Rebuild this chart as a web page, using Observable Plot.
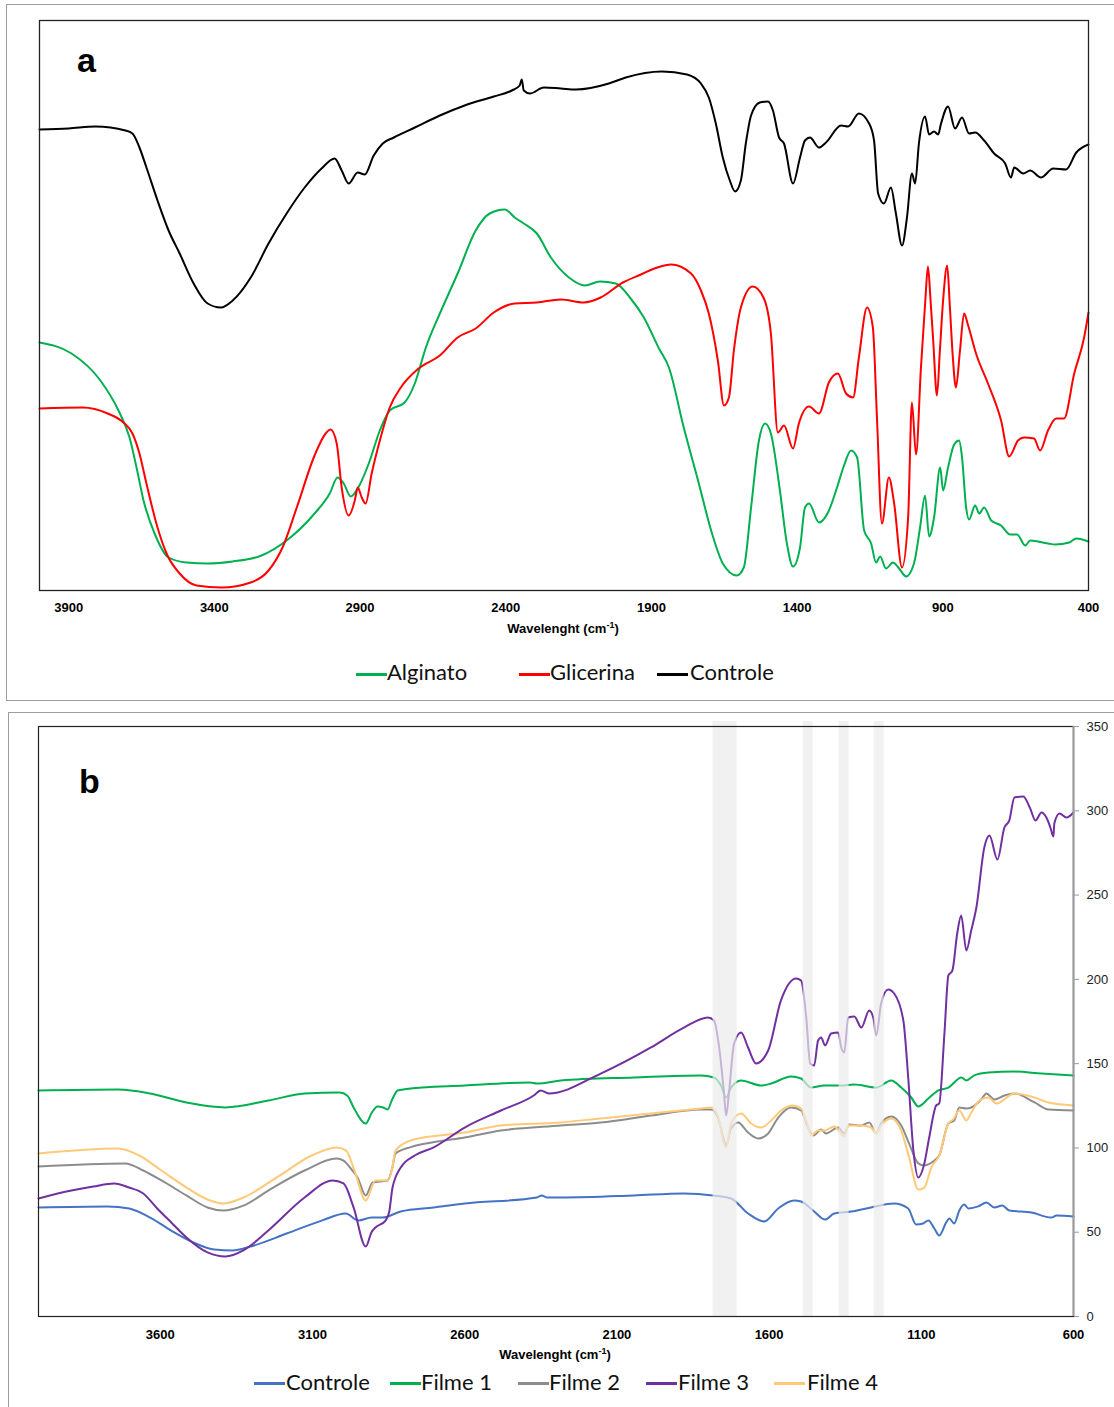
<!DOCTYPE html>
<html><head><meta charset="utf-8">
<script src="https://cdn.jsdelivr.net/npm/d3@7"></script>
<script src="https://cdn.jsdelivr.net/npm/@observablehq/plot@0.6"></script>
<style>
body{margin:0;background:#fff;width:1114px;height:1407px;position:relative;overflow:hidden}
.panel{position:absolute;border:1px solid #9c9c9c;box-sizing:border-box}
.abs{position:absolute;left:0}
.tag{position:absolute;font:bold 34px "Liberation Sans",Arial,sans-serif;line-height:34px;color:#000}
.xlabel{position:absolute;font:bold 13px "Liberation Sans",Arial,sans-serif;line-height:16px;transform:translateX(-50%);white-space:nowrap;color:#000}
.xlabel sup{font-size:9px;line-height:0}
.sw{position:absolute;height:2.5px}
.lt{position:absolute;font:22px Lato,"Noto Sans",sans-serif;line-height:24px;color:#111;white-space:nowrap}
</style></head>
<body>
<div class="panel" style="left:6px;top:4px;width:1120px;height:697px"></div>
<div class="panel" style="left:8px;top:712px;width:1120px;height:720px"></div>
<div id="pa" class="abs" style="top:0"></div>
<div id="pb" class="abs" style="top:700px"></div>
<div class="tag" style="left:77px;top:43px">a</div>
<div class="tag" style="left:79px;top:764px">b</div>
<div class="xlabel" style="left:563px;top:621px">Wavelenght (cm<sup>-1</sup>)</div>
<div class="xlabel" style="left:555px;top:1347px">Wavelenght (cm<sup>-1</sup>)</div>
<div id="legs"></div>
<script>
// ---------- Panel a (arbitrary transmittance units) ----------
const ticksA = [3900, 3400, 2900, 2400, 1900, 1400, 900, 400];
const namesA = ["Alginato", "Glicerina", "Controle"];
const colorsA = ["#00b050", "#ff0000", "#000000"];

const alginatoA = [[4000,49.6],[3890,47.4],[3791,42],[3729,36],[3691,30.6],[3667,24.6],[3643,18],[3605,11.4],[3557,6.6],[3495,5.6],[3423,5.4],[3337,5.8],[3238,7],[3152,10],[3056,15.4],[3004,19.4],[2977,22.6],[2956,21.4],[2932,18.8],[2908,20.4],[2870,25.4],[2832,32],[2798,36],[2747,37.6],[2712,41.4],[2674,48.6],[2626,55.4],[2565,63.4],[2503,72],[2455,75.4],[2403,76.2],[2369,74.6],[2338,73.4],[2293,71.4],[2245,66.6],[2183,62.6],[2128,61],[2077,61.8],[2022,61.4],[1974,58.6],[1926,54.6],[1874,48.4],[1840,44.6],[1789,32.6],[1740,22],[1692,11.4],[1655,5.4],[1607,3],[1583,4.6],[1558,16.6],[1531,30],[1510,33.4],[1490,31.4],[1459,20],[1435,9.4],[1414,4.8],[1390,8.6],[1373,16.6],[1359,17.4],[1325,13.6],[1294,15.6],[1263,20.6],[1239,25],[1215,28],[1194,26.6],[1170,12],[1146,9.4],[1129,5.6],[1115,6.8],[1095,4.4],[1071,5.6],[1050,4.4],[1026,2.8],[999,5.4],[978,12.6],[961,19],[947,10.8],[930,14.6],[909,24.6],[899,20],[882,24.6],[861,29.2],[844,30],[834,26.6],[820,16.6],[810,14.2],[789,17],[775,15.4],[758,16.6],[734,14],[700,13],[669,11.2],[645,11.2],[617,9],[600,10],[539,9.4],[515,9.2],[466,9.6],[442,10.4],[400,9.8]];

const glicerinaA = [[4000,36.4],[3852,36.6],[3766,35.4],[3712,33.6],[3681,31.4],[3657,27.4],[3633,21.4],[3595,12.6],[3564,7.4],[3519,3.4],[3461,1],[3375,0.6],[3275,1.6],[3214,4],[3166,8.6],[3117,16.6],[3056,27],[3018,31.4],[3001,32.2],[2980,29.4],[2963,20.6],[2939,15],[2918,18],[2908,20.6],[2894,18.6],[2881,17.4],[2860,23.4],[2832,30],[2798,36.6],[2760,40.6],[2699,44.4],[2626,47],[2565,50.6],[2503,52.4],[2441,55.6],[2369,57.4],[2293,57.6],[2211,58.2],[2132,57.6],[2074,58.6],[1998,61.6],[1936,63.2],[1880,64.6],[1833,65.2],[1764,63.4],[1730,60],[1703,55.4],[1672,46],[1651,37],[1634,38.6],[1617,48],[1593,56.6],[1552,60.8],[1514,58.4],[1490,51.4],[1466,31.6],[1445,33],[1414,28.4],[1394,33.4],[1359,36.8],[1325,35.4],[1291,41.6],[1260,43.4],[1232,39.4],[1208,38.6],[1188,46.6],[1160,56.6],[1140,52.6],[1126,34.6],[1109,13.4],[1085,22.6],[1067,17.4],[1040,4.6],[1019,14.6],[1006,37.6],[992,27.2],[975,44.6],[960,58],[951,64.8],[942,58],[933,50],[920,39],[910,48],[899,58],[885,65],[876,57],[866,47],[855,40.6],[841,48],[827,55.4],[813,53],[786,47.4],[745,41.4],[700,34],[672,26.8],[642,30],[621,30.6],[587,30.4],[566,28],[539,32],[511,34.4],[484,34.4],[449,43.4],[415,50.6],[400,55.6]];

const controleA = [[4000,92.2],[3900,92.4],[3808,92.8],[3705,92],[3681,91.4],[3657,88.6],[3633,84.6],[3595,78],[3557,72],[3519,67.4],[3471,61.4],[3423,57.4],[3378,56.6],[3337,58],[3275,62.6],[3214,69.4],[3152,75.4],[3090,80.6],[3032,84.4],[2987,86.4],[2963,84],[2939,81.4],[2908,83.6],[2884,83.2],[2853,87],[2822,89.4],[2784,90.6],[2712,92.6],[2626,95],[2541,97],[2441,98.8],[2379,100],[2352,101],[2345,102.2],[2338,100],[2317,99.4],[2269,100.6],[2211,100.4],[2159,100.2],[2046,101.4],[1988,102.6],[1864,103.8],[1778,103.2],[1730,101.4],[1703,98.6],[1679,93.4],[1655,86.6],[1631,82],[1613,79.8],[1593,82],[1576,89.4],[1558,95],[1528,97.6],[1500,97.8],[1483,96],[1462,90.6],[1445,89.4],[1414,81.4],[1390,86.6],[1373,90],[1356,90.6],[1325,88.6],[1301,89.6],[1249,93],[1225,92.8],[1188,95.4],[1153,93.4],[1136,90],[1122,79.4],[1102,77.4],[1078,80.6],[1061,75.4],[1040,69],[1023,74.6],[1006,83.4],[995,81.4],[982,89.4],[961,94.8],[947,91.2],[930,91.8],[916,91.2],[906,93.4],[882,96.8],[858,92.4],[834,94.6],[810,91.4],[789,91.6],[758,90],[724,87.4],[686,85.4],[666,82.6],[655,84.6],[624,83.4],[600,84],[563,82.6],[521,84.4],[477,84.2],[442,87.6],[400,89.2]];

// ---------- Panel b ----------
const ticksBx = [3600, 3100, 2600, 2100, 1600, 1100, 600];
const ticksBy = [0, 50, 100, 150, 200, 250, 300, 350];
const namesB = ["Controle", "Filme 1", "Filme 2", "Filme 3", "Filme 4"];
const colorsB = ["#4472c4", "#00b050", "#8c8c8c", "#7030a0", "#ffc978"];
const bandsB = [[1784,1705],[1488,1455],[1370,1337],[1255,1222]];

const controleB = [[4000,64.7],[3774,65.3],[3702,64.1],[3633,58.7],[3564,51],[3491,43.9],[3422,39.7],[3363,39.2],[3304,41.5],[3185,49.2],[3070,56.9],[2991,61.1],[2949,56.9],[2906,58.7],[2870,58.7],[2810,62.3],[2702,64.7],[2600,67],[2363,70.6],[2347,71.8],[2330,70.6],[2284,70.6],[2044,71.8],[1880,73],[1784,71.8],[1725,70],[1669,61.1],[1616,56.4],[1570,64.1],[1518,68.8],[1495,68.2],[1452,62.3],[1416,57.5],[1386,61.1],[1330,62.3],[1265,64.7],[1189,67],[1143,64.1],[1117,54.6],[1094,55.2],[1077,56.9],[1057,52.2],[1041,48],[1018,55.8],[1008,58.1],[992,55.2],[975,62.9],[959,66.4],[945,64.1],[913,65.3],[886,67.6],[860,64.7],[834,65.8],[811,62.9],[738,61.7],[673,58.7],[656,59.9],[600,59.3]];

const filme1B = [[4000,134.1],[3738,134.7],[3633,132.3],[3514,126.9],[3386,124],[3245,128.1],[3126,132.3],[3011,132.9],[2985,131],[2965,124],[2925,114.5],[2905,121],[2886,124.6],[2868,124],[2853,122.8],[2840,128],[2820,134.1],[2797,134.8],[2600,137],[2386,138.8],[2363,138.2],[2284,140],[2044,141.8],[1824,143],[1781,141.8],[1758,137],[1741,129.9],[1725,135.8],[1692,140],[1626,137],[1593,138.2],[1528,142.4],[1495,141.2],[1462,135.8],[1419,137],[1363,137],[1320,137.6],[1248,135.8],[1199,140],[1166,135.8],[1133,129.9],[1110,124.6],[1077,129.3],[1044,134.1],[1011,135.8],[968,141.8],[952,140],[926,143],[880,144.7],[794,145.3],[705,144.1],[600,143]];

const filme2B = [[4000,89],[3715,90.8],[3656,86.6],[3596,80.7],[3514,71.8],[3445,64.7],[3393,62.9],[3327,65.8],[3235,75.9],[3126,86.6],[3021,93.7],[2998,92.5],[2975,88],[2952,82.5],[2925,71.8],[2902,79.5],[2853,80.7],[2838,88],[2827,96.7],[2777,100.5],[2700,103.5],[2600,106.2],[2481,110.3],[2284,113.3],[2153,115.1],[1988,119.2],[1824,122.8],[1791,122.8],[1768,118],[1751,106.2],[1741,101.4],[1725,111.5],[1702,115.1],[1669,109.1],[1636,105.6],[1603,108.6],[1570,118],[1528,124],[1495,122.2],[1472,112.1],[1455,107.4],[1429,110.9],[1413,108.6],[1373,112.1],[1353,108.6],[1337,113.9],[1297,113.3],[1271,115.1],[1248,108.6],[1232,114.5],[1199,118.6],[1166,113.3],[1140,102.6],[1110,90.8],[1090,89.6],[1057,92.5],[1041,95.5],[1011,114.5],[992,116.3],[975,124],[952,123.4],[936,124],[903,128.7],[886,132.3],[860,128.7],[827,131.1],[794,132.3],[728,127],[682,122.8],[600,122.2]];

const filme3B = [[4000,70],[3892,74.7],[3820,77.1],[3751,78.9],[3702,76.5],[3656,73],[3610,64.1],[3564,55.8],[3514,46.9],[3445,38],[3386,35.6],[3327,39.2],[3245,51],[3126,70.6],[3034,80.7],[2998,78.9],[2965,64.7],[2925,41.5],[2906,50],[2893,52.8],[2860,56.9],[2848,62],[2837,76.5],[2810,88.4],[2764,95.5],[2702,100.3],[2600,112.1],[2481,122.2],[2373,131.1],[2350,134.1],[2324,132.3],[2153,144.1],[1988,159.6],[1880,171.4],[1801,177.4],[1781,175.6],[1764,159.6],[1748,132.3],[1741,119.2],[1732,132.3],[1715,161.9],[1692,168.5],[1669,159.6],[1643,150.1],[1603,157.8],[1561,187.5],[1511,200.5],[1495,199.3],[1478,177.4],[1465,150.1],[1452,148.9],[1439,163.7],[1429,165.5],[1416,160.8],[1396,167.9],[1373,168.5],[1363,159.6],[1353,156.6],[1340,177.4],[1320,178],[1297,171.4],[1271,181.5],[1258,177.4],[1248,166.7],[1232,185.7],[1209,194],[1189,191.6],[1159,175.6],[1143,141.8],[1126,98.5],[1110,82.5],[1090,90.8],[1074,106.2],[1051,125.2],[1041,126.4],[1024,167.9],[1011,202.3],[998,205.2],[982,227.2],[969,237.9],[952,217.1],[936,229],[919,242.6],[893,278.2],[876,285.3],[850,271.1],[827,290.1],[811,294.2],[794,307.9],[765,308.5],[742,301.3],[725,294.2],[705,299],[689,296],[676,290.1],[666,284.7],[663,292.5],[646,298.4],[623,296],[600,299]];

const filme4B = [[4000,96.7],[3738,99.7],[3669,95.5],[3596,86.6],[3514,76.5],[3445,69.4],[3393,67],[3327,70.6],[3208,83.6],[3103,95.5],[3021,100.3],[2990,98.5],[2962,86.6],[2925,68.8],[2893,80.7],[2853,80.7],[2838,88],[2827,98.5],[2768,105],[2600,109.1],[2481,113.3],[2284,115.1],[2153,117.5],[1824,123.4],[1791,124],[1768,119.2],[1751,104.4],[1741,100.3],[1725,114.5],[1692,120.4],[1659,114.5],[1626,112.1],[1593,116.3],[1561,122.2],[1521,125.2],[1495,123.4],[1475,114.5],[1462,107.4],[1439,110.3],[1419,110.3],[1386,112.7],[1353,106.8],[1340,113.3],[1297,113.3],[1265,112.1],[1248,108.6],[1232,113.3],[1199,117.5],[1166,110.3],[1140,94.3],[1110,75.3],[1090,76.5],[1067,88.4],[1041,95.5],[1011,114.5],[995,116.9],[975,122.2],[952,116.3],[936,121],[909,128.1],[880,129.9],[853,126.4],[794,132.3],[728,129.9],[682,126.9],[600,125.2]];

const seriesA = [alginatoA, glicerinaA, controleA];
const seriesB = [controleB, filme1B, filme2B, filme3B, filme4B];
const drawOrderB = [0, 1, 2, 4, 3];

const lineOpts = (c) => ({x: d => d[0], y: d => d[1], stroke: c, strokeWidth: 2, curve: "monotone-x"});

const plotA = Plot.plot({
  width: 1114, height: 625,
  marginLeft: 39, marginRight: 26, marginTop: 20, marginBottom: 35,
  style: {background: "transparent", fontFamily: "'Liberation Sans', Arial, sans-serif", color: "#000"},
  x: {domain: [4000, 400]},
  y: {domain: [0, 114], axis: null},
  marks: [
    ...seriesA.map((s, i) => Plot.line(s, lineOpts(colorsA[i]))),
    Plot.frame({stroke: "#222", strokeWidth: 1.3}),
    Plot.axisX({ticks: ticksA, tickSize: 0, tickPadding: 12, tickFormat: "d", fontWeight: "bold", fontSize: 13, label: null})
  ]
});
document.getElementById("pa").appendChild(plotA);

const plotB = Plot.plot({
  width: 1114, height: 655,
  marginLeft: 38, marginRight: 41, marginTop: 26, marginBottom: 39,
  style: {background: "transparent", fontFamily: "'Liberation Sans', Arial, sans-serif", color: "#000"},
  x: {domain: [4000, 600]},
  y: {domain: [0, 350]},
  marks: [
    ...drawOrderB.map(i => Plot.line(seriesB[i], lineOpts(colorsB[i]))),
    Plot.rect(bandsB, {x1: d => d[0], x2: d => d[1], y1: () => 0, y2: () => 353, fill: "#ebebeb", fillOpacity: 0.7}),
    Plot.frame({stroke: "#222", strokeWidth: 1.2}),
    Plot.ruleX([600], {stroke: "#9a9a9a", strokeWidth: 2}),
    Plot.axisX({ticks: ticksBx, tickSize: 0, tickPadding: 13, tickFormat: "d", fontWeight: "bold", fontSize: 13, label: null}),
    Plot.axisY({anchor: "right", ticks: ticksBy, tickSize: 5, tickPadding: 8, tickFormat: "d", stroke: "#9a9a9a", fill: "#222", fontSize: 13, label: null})
  ]
});
document.getElementById("pb").appendChild(plotB);

// ---------- Legends ----------
const legs = document.getElementById("legs");
function legend(names, colors, lineX, textX, lineY, textTop) {
  names.forEach((n, i) => {
    const sw = document.createElement("div");
    sw.className = "sw";
    sw.style.left = lineX[i] + "px";
    sw.style.top = (lineY - 1) + "px";
    sw.style.width = "31px";
    sw.style.background = colors[i];
    legs.appendChild(sw);
    const t = document.createElement("div");
    t.className = "lt";
    t.style.left = textX[i] + "px";
    t.style.top = textTop + "px";
    t.textContent = n;
    legs.appendChild(t);
  });
}
legend(namesA, colorsA, [356, 519, 657], [387, 550, 690], 674, 660);
legend(namesB, colorsB, [254, 390, 518, 646, 774], [286, 421, 549, 678, 807], 1383, 1370);
</script>
</body></html>
